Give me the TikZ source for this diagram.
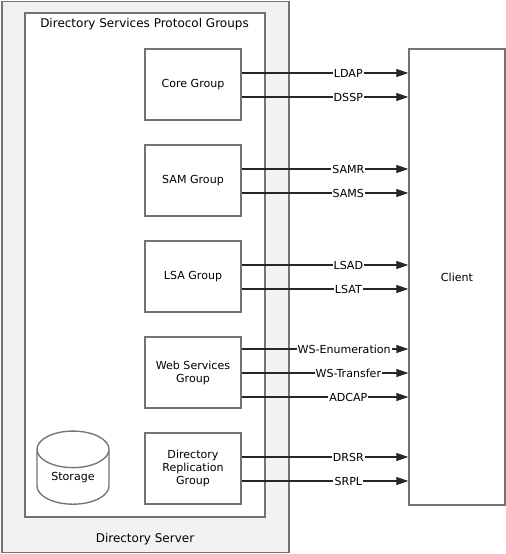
\documentclass[tikz,border=0pt]{standalone}
\usepackage{fontspec}
\setmainfont{DejaVu Sans}
\usetikzlibrary{arrows.meta,calc,shapes.geometric}

\tikzset{
  box/.style={draw=black!55,line width=1pt,fill=white,minimum width=72pt,minimum height=53.25pt,align=center,inner sep=1pt},
  proto/.style={draw=black!85,line width=0.8pt,-{Triangle[length=9pt,width=6pt]}},
  lbl/.style={fill=white,inner sep=0.8pt},
  big/.style={font=\fontsize{9pt}{11pt}\selectfont}
}

\begin{document}
\begin{tikzpicture}[x=0.75pt,y=-0.75pt,font=\fontsize{8.3pt}{9.75pt}\selectfont]
    \useasboundingbox (0,0) rectangle (506,554);
    % server and protocol group frame
    \draw[draw=black!55,line width=1pt,fill=black!5] (2,1.5) rectangle (289,552.5);
    \draw[draw=black!55,line width=1pt,fill=white] (25,13) rectangle (265,517);
    \node[big] (title) at (144.5,24) {Directory Services Protocol Groups};
    \node[big] (server) at (145,539) {Directory Server};

    % groups
    \node[box] (core) at (193,84.5) {Core Group};
    \node[box] (sam) at (193,180.5) {SAM Group};
    \node[box] (lsa) at (193,276.5) {LSA Group};
    \node[box] (ws) at (193,372.5) {Web Services\\Group};
    \node[box] (drg) at (193,468.5) {Directory\\Replication\\Group};
    \node[draw=black!55,line width=1pt,fill=white,cylinder,shape border rotate=90,aspect=0.7,
          minimum width=54pt,minimum height=54pt,text depth=7pt] (storage) at (73,481.5) {Storage};

    \node[box,minimum height=342pt] (client) at (457,277) {Client};

    % protocols
    \foreach \g/\d/\p/\t in {core/-11.5/.64/LDAP, core/12.5/.64/DSSP,
                             sam/-11.5/.64/SAMR, sam/12.5/.64/SAMS,
                             lsa/-11.5/.64/LSAD, lsa/12.5/.64/LSAT,
                             ws/-23.5/.615/WS-Enumeration, ws/0.5/.64/WS-Transfer, ws/24.5/.64/ADCAP,
                             drg/-11.5/.64/DRSR, drg/12.5/.64/SRPL}{
        \draw[proto] ($(\g.east)+(0,\d)$) coordinate (s) -- (s -| client.west) node[lbl,pos=\p] {\t};
    }
\end{tikzpicture}
\end{document}
